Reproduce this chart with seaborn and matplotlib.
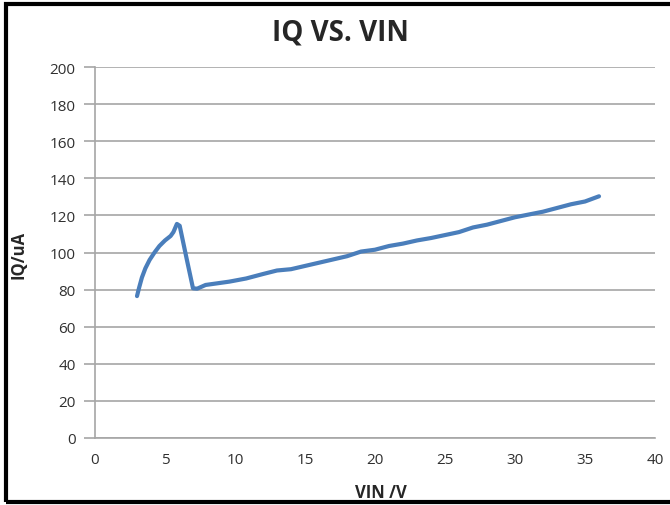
import matplotlib.pyplot as plt
import matplotlib.patches as patches
import pandas as pd
import seaborn as sns

# values
vin = [3.0, 3.15, 3.35, 3.6, 3.9, 4.25, 4.6, 5.0, 5.4, 5.6, 5.85, 6.05, 6.55, 7.0, 7.3, 7.9,
       9.6, 10.8, 12.0, 13.0, 14.0, 16.0, 18.0, 19.0, 20.0, 21.0, 22.0, 23.0, 24.0, 26.0,
       27.0, 28.0, 30.0, 32.0, 34.0, 35.0, 36.0]
iq = [76.5, 81.0, 86.5, 91.5, 96.0, 100.0, 103.5, 106.5, 108.9, 111.0, 115.4, 114.4, 96.5,
      80.7, 80.5, 82.5, 84.3, 86.0, 88.4, 90.3, 91.0, 94.5, 98.0, 100.5, 101.5, 103.5, 104.8,
      106.5, 107.8, 111.0, 113.5, 115.0, 119.0, 122.0, 126.0, 127.5, 130.3]

df = pd.DataFrame({"VIN": vin, "IQ": iq})

sns.set_style("white")
plt.rcParams['font.family'] = ['Open Sans', 'DejaVu Sans']

fig = plt.figure(figsize=(6.7, 5.06), dpi=100)
ax = fig.add_axes([95 / 670, 67 / 506, 560 / 670, 371 / 506])

sns.lineplot(data=df, x="VIN", y="IQ", sort=False, color="#4a7ebb", linewidth=3, ax=ax)

ax.set_xlim(0, 40)
ax.set_ylim(0, 200)
ax.set_xticks(range(0, 41, 5))
ax.set_yticks(range(0, 201, 20))
ax.grid(axis="y", color="#a6a6a6", linewidth=1.2)
ax.grid(axis="x", visible=False)
for s in ["top", "right"]:
    ax.spines[s].set_visible(False)
ax.spines["left"].set_color("#a6a6a6")
ax.spines["bottom"].set_color("#a6a6a6")
ax.spines["left"].set_linewidth(1.2)
ax.spines["bottom"].set_linewidth(1.2)
ax.tick_params(axis="y", length=8, color="#a6a6a6", width=1.2, left=True, labelsize=11,
               labelcolor="#303030", pad=6)
ax.tick_params(axis="x", length=0, labelsize=11, labelcolor="#303030", pad=10)

ax.set_xlabel("")
ax.set_ylabel("")
fig.text(381 / 670, 1 - 493 / 506, "VIN /V", ha="center", va="center", fontsize=12, fontweight="bold")
fig.text(19 / 670, 1 - 255 / 506, "IQ/uA", ha="center", va="center", fontsize=12,
         fontweight="bold", rotation=90)
fig.text(340 / 670, 1 - 33 / 506, "IQ VS. VIN", ha="center", va="center", fontsize=20,
         fontweight="bold")

# black frame around the chart
fig.patches.append(patches.Rectangle((6 / 670, 3 / 506), 1.0, 1 - 8 / 506, transform=fig.transFigure,
                                     fill=False, edgecolor="black", linewidth=3, clip_on=False))

fig.savefig("out.png", dpi=100)
